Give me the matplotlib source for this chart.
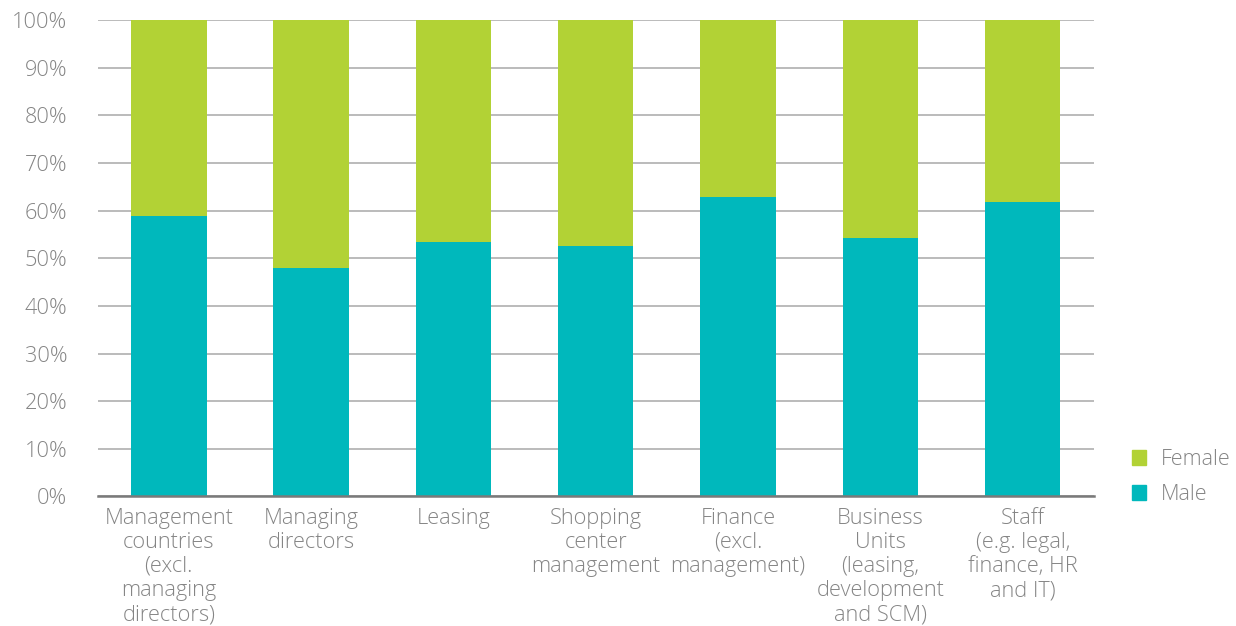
import numpy as np
import matplotlib.pyplot as plt
from matplotlib.patches import Patch

categories = [
    "Management\ncountries\n(excl.\nmanaging\ndirectors)",
    "Managing\ndirectors",
    "Leasing",
    "Shopping\ncenter\nmanagement",
    "Finance\n(excl.\nmanagement)",
    "Business\nUnits\n(leasing,\ndevelopment\nand SCM)",
    "Staff\n(e.g. legal,\nfinance, HR\nand IT)",
]
male = [58.8, 48.0, 53.4, 52.5, 62.8, 54.3, 61.7]
female = [100 - m for m in male]

green = "#b2d235"
teal = "#00b8bc"
grey = "#858585"

plt.rcParams["font.family"] = ["Open Sans", "DejaVu Sans"]
plt.rcParams["font.weight"] = "light"

fig = plt.figure(figsize=(12.36, 6.26), dpi=100)
ax = fig.add_axes([0.079, 0.207, 0.806, 0.761])

x = np.arange(len(categories))
ax.bar(x, male, width=0.53, color=teal, zorder=3)
ax.bar(x, female, width=0.53, bottom=male, color=green, zorder=3)

ax.set_xlim(-0.5, 6.5)
ax.set_ylim(0, 100)
ax.set_yticks(np.arange(0, 101, 10))
ax.set_yticklabels([f"{v}%" for v in range(0, 101, 10)])
ax.set_xticks(x)
ax.set_xticklabels(categories, linespacing=1.2)

ax.grid(axis="y", color="#b5b5b5", linewidth=1.3, zorder=0)
for s in ["top", "right", "left"]:
    ax.spines[s].set_visible(False)
ax.spines["bottom"].set_color("#7a7a7a")
ax.spines["bottom"].set_linewidth(1.8)
ax.spines["bottom"].set_zorder(4)
ax.tick_params(axis="both", length=0, labelsize=15.7, labelcolor=grey)
ax.tick_params(axis="y", pad=22)
ax.tick_params(axis="x", pad=8)

handles = [Patch(color=green, label="Female"), Patch(color=teal, label="Male")]
leg = fig.legend(handles=handles, loc="center left", bbox_to_anchor=(0.9, 0.238),
                 frameon=False, fontsize=15.5, handlelength=0.65, handleheight=0.65,
                 handletextpad=0.7, labelspacing=0.65)
for t in leg.get_texts():
    t.set_color(grey)

fig.savefig("out.png", dpi=100)
